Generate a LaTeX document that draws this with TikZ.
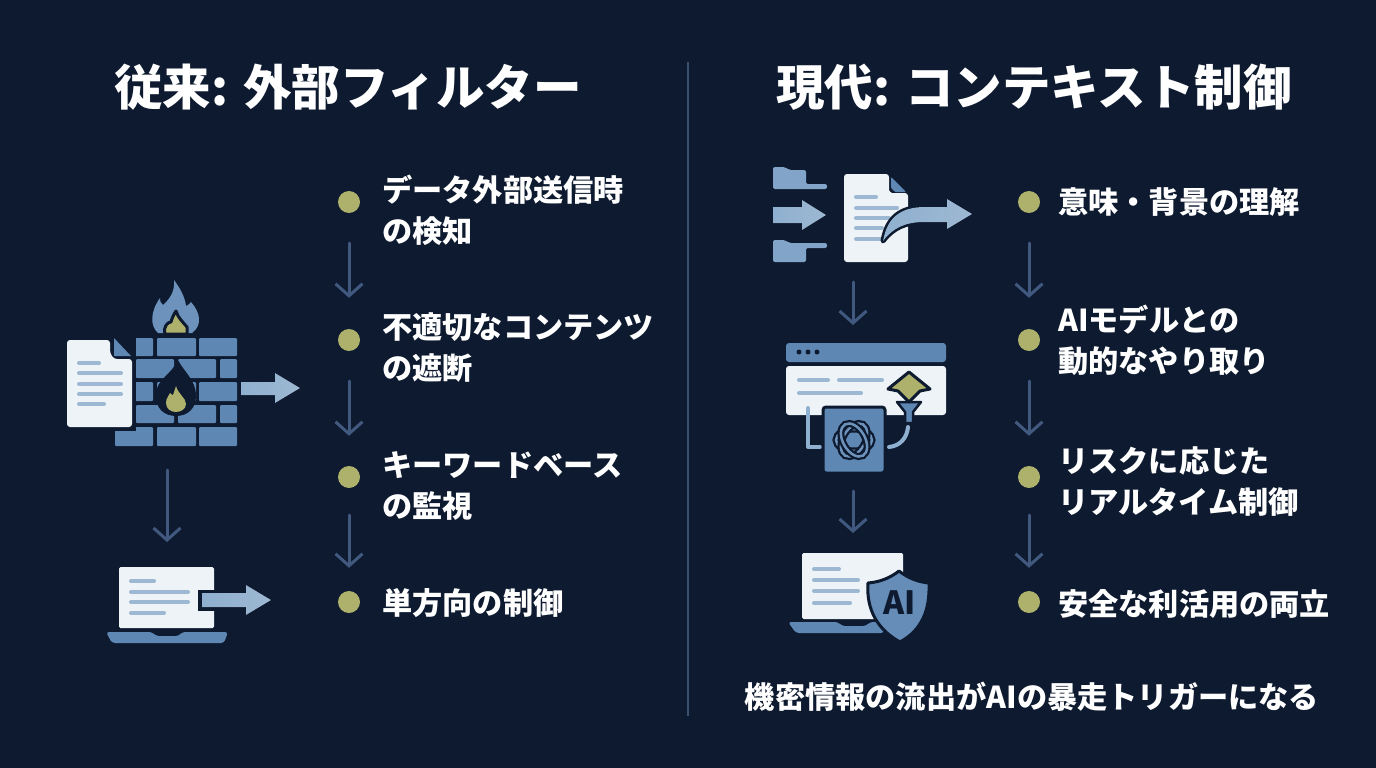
\documentclass[tikz,border=0pt]{standalone}
\usepackage{fontspec}
\setmainfont{Noto Sans CJK JP}
\usepackage{xcolor}
\usepackage{tikz}
\usetikzlibrary{arrows.meta}

\definecolor{bgnavy}{HTML}{0D1A2F}
\definecolor{iconblue}{HTML}{5F87B4}
\definecolor{paleblue}{HTML}{8FB0D0}
\definecolor{linblue}{HTML}{9DB8D2}
\definecolor{paper}{HTML}{EEF3F8}
\definecolor{olive}{HTML}{ADB16C}
\definecolor{flowblue}{HTML}{41597F}
\definecolor{rulecol}{HTML}{3A5070}

\tikzset{
    heading/.style={text=white, font=\fontsize{48.5}{52}\selectfont\bfseries},
    item/.style={text=white, anchor=west, align=left, inner sep=0pt, font=\fontsize{30.2}{41}\selectfont\bfseries},
    bullet/.style={circle, fill=olive, minimum size=22pt, inner sep=0pt},
    flow/.style={draw=flowblue, line width=3pt, line cap=round, -{Straight Barb[length=12pt,width=27pt]}},
    brick/.style={fill=iconblue, rounded corners=1pt},
    sheet/.style={fill=paper, rounded corners=3pt},
    txtline/.style={draw=linblue, line width=4pt, line cap=round},
    cut/.style={draw=bgnavy, line width=3pt, line join=round},
    bigarrow/.style={left color=paleblue, right color=linblue, draw=none}
}

\begin{document}
\begin{tikzpicture}[x=1pt, y=-1pt]
    \useasboundingbox (0,0) rectangle (1376,768);
    \fill[bgnavy] (0,0) rectangle (1376,768);

    % Titles and divider
    \node[heading] (titleleft) at (348,87) {従来: 外部フィルター};
    \node[heading] (titleright) at (1034,87) {現代: コンテキスト制御};
    \coordinate (divtop) at (688,62);
    \coordinate (divbot) at (688,716);
    \draw[rulecol, line width=2pt] (divtop) -- (divbot);

    % Left list
    \node[bullet] (la) at (349,202) {};
    \node[bullet] (lb) at (349,340) {};
    \node[bullet] (lc) at (349,477) {};
    \node[bullet] (ld) at (349,602) {};
    \node[item] (lat) at (382,210) {データ外部送信時\\の検知};
    \node[item] (lbt) at (382,348) {不適切なコンテンツ\\の遮断};
    \node[item] (lct) at (382,486) {キーワードベース\\の監視};
    \node[item] (ldt) at (382,603) {単方向の制御};
    \draw[flow, shorten <=30pt, shorten >=31pt] (la) -- (lb);
    \draw[flow, shorten <=30pt, shorten >=30pt] (lb) -- (lc);
    \draw[flow, shorten <=27pt, shorten >=23pt] (lc) -- (ld);

    % Right list
    \node[bullet] (ra) at (1029,202) {};
    \node[bullet] (rb) at (1029,340) {};
    \node[bullet] (rc) at (1029,477) {};
    \node[bullet] (rd) at (1029,602) {};
    \node[item] (rat) at (1058,202) {意味・背景の理解};
    \node[item] (rbt) at (1058,340) {AIモデルとの\\動的なやり取り};
    \node[item] (rct) at (1058,482) {リスクに応じた\\リアルタイム制御};
    \node[item] (rdt) at (1058,604) {安全な利活用の両立};
    \draw[flow, shorten <=30pt, shorten >=31pt] (ra) -- (rb);
    \draw[flow, shorten <=30pt, shorten >=30pt] (rb) -- (rc);
    \draw[flow, shorten <=27pt, shorten >=23pt] (rc) -- (rd);

    % Footer
    \node[text=white, font=\fontsize{30.2}{36}\selectfont\bfseries] (footer) at (1032,697) {機密情報の流出がAIの暴走トリガーになる};

    % Firewall bricks
    \foreach \ya/\yb in {338/356, 382/401, 427/446} {
        \fill[brick] (115,\ya) rectangle (153,\yb);
        \fill[brick] (157,\ya) rectangle (196,\yb);
        \fill[brick] (199,\ya) rectangle (237,\yb);
    }
    \foreach \ya/\yb in {359/378, 405/423} {
        \fill[brick] (136,\ya) rectangle (174,\yb);
        \fill[brick] (178,\ya) rectangle (216,\yb);
        \fill[brick] (220,\ya) rectangle (237,\yb);
    }

    % Top flame
    \fill[iconblue!70!paleblue] (158,333) .. controls (150,326) and (150,312) .. (160,298)
        .. controls (160,302) and (161,303) .. (163,305)
        .. controls (171,298) and (175,290) .. (174,280)
        .. controls (180,288) and (185,297) .. (186,306)
        .. controls (188,305) and (190,304) .. (191,302)
        .. controls (200,312) and (203,325) .. (192,333) -- cycle;
    \filldraw[fill=olive, cut] (165,334) .. controls (163,326) and (168,322) .. (171,322)
        .. controls (172,318) and (174,314) .. (176,311)
        .. controls (178,318) and (183,322) .. (187,327) -- (187,334) -- cycle;
    \fill[bgnavy] (140,334) rectangle (210,336.5);

    % Centre flame
    \fill[bgnavy] (178,360) .. controls (184,372) and (196,380) .. (196,396)
        .. controls (196,408) and (188,416) .. (176,416)
        .. controls (164,416) and (155,408) .. (156,394)
        .. controls (156,380) and (172,374) .. (178,360) -- cycle;
    \fill[olive] (176,386) .. controls (178,394) and (186,398) .. (186,404)
        .. controls (186,409) and (181,412) .. (176,412)
        .. controls (171,412) and (166,409) .. (166,403)
        .. controls (166,398) and (169,396) .. (170,393)
        .. controls (171,394) and (172,395) .. (173,395)
        .. controls (174,392) and (175,389) .. (176,386) -- cycle;

    % Left document
    \fill[bgnavy] (64,337) rectangle (136,431);
    \fill[bgnavy] (110,335) rectangle (118,340);
    \fill[sheet] (67,340) -- (110,340) -- (110,353) -- (114,359) -- (132,359) -- (132,427) -- (67,427) -- cycle;
    \fill[iconblue] (114,338) -- (131,356) -- (114,356) -- cycle;
    \foreach \yl/\xe in {363/99, 373/121, 384/121, 394/121, 404/104}
        \draw[txtline] (79,\yl) -- (\xe,\yl);

    % Firewall arrow
    \fill[bigarrow] (241,382) -- (275,382) -- (275,373) -- (300,388) -- (275,403) -- (275,395) -- (241,395) -- cycle;

    % Left laptop
    \fill[sheet, rounded corners=1.5pt] (119,567) rectangle (214,628);
    \fill[bgnavy] (198,590) rectangle (216,611);
    \foreach \yl/\xe in {581/154, 592/188, 602/188, 613/164}
        \draw[txtline] (131,\yl) -- (\xe,\yl);
    \fill[bigarrow] (202,593) -- (246,593) -- (246,585) -- (271,600) -- (246,615) -- (246,607) -- (202,607) -- cycle;
    \fill[iconblue, rounded corners=3pt] (106,632) -- (152,632) -- (156,636) -- (179,636) -- (182,632) -- (228,632)
        -- (224,643) -- (112,643) -- cycle;

    % Arrows between left icons
    \coordinate (wallout) at (167,470);
    \coordinate (lapin) at (167,542);
    \draw[flow] (wallout) -- (lapin);

    % Folders and input arrow
    \fill[paleblue!70!iconblue, rounded corners=2pt] (773,167) -- (785,167) -- (789,170) -- (806,170) -- (806,184) -- (827,184) -- (827,189) -- (773,189) -- cycle;
    \fill[bigarrow] (773,207) -- (802,207) -- (802,200) -- (826,215) -- (802,230) -- (802,223) -- (773,223) -- cycle;
    \fill[paleblue!70!iconblue, rounded corners=2pt] (773,240) -- (785,240) -- (789,243) -- (827,243) -- (827,248) -- (806,248) -- (806,262) -- (773,262) -- cycle;

    % Right document
    \fill[sheet] (844,174) -- (889,174) -- (889,187) .. controls (889,191) and (891,193) .. (895,193) -- (908,193) -- (908,262) -- (844,262) -- cycle;
    \fill[iconblue, rounded corners=1pt] (891,177) -- (906,192) -- (895,192) -- (891,188) -- cycle;
    \foreach \yl/\xe in {197/876, 208/897, 218/889, 228/882, 239/881}
        \draw[txtline] (856,\yl) -- (\xe,\yl);

    % Curved output arrow
    \fill[preaction={draw=bgnavy, line width=5pt, line join=round}, left color=paleblue, right color=linblue]
        (883,241) .. controls (887,218) and (900,207) .. (925,207) -- (947,207) -- (947,199) -- (972,214) -- (947,229) -- (947,222) -- (925,222)
        .. controls (905,222) and (893,228) .. (883,241) -- cycle;

    \coordinate (docout) at (853,282);
    \coordinate (webin) at (853,325);
    \draw[flow] (docout) -- (webin);

    % Browser window
    \fill[iconblue, rounded corners=3pt] (786,362) -- (786,343) -- (946,343) -- (946,362) -- cycle;
    \fill[sheet] (786,366) rectangle (946,415);
    \foreach \xd in {799,808,817}
        \fill[bgnavy] (\xd,352) circle (2.5);
    \draw[txtline] (799,380) -- (828,380);
    \draw[txtline] (839,380) -- (882,380);
    \draw[txtline] (799,393) -- (861,393);

    % Wires to the chip
    \draw[paleblue, line width=4pt, line cap=round, line join=round] (808,408) -- (808,447) -- (820,447);
    \draw[paleblue, line width=4pt, line cap=round] (889,447) .. controls (900,446) and (907,438) .. (908,427);

    % Chip with knot
    \filldraw[fill=iconblue, draw=bgnavy, line width=3pt, rounded corners=3pt] (823,407) rectangle (885,473);
    \foreach \ang in {0,60,120} {
        \draw[bgnavy, line width=7pt, rotate around={\ang:(854,440)}] (854,440) ellipse (18 and 11);
        \draw[iconblue!70!paleblue, line width=2.5pt, rotate around={\ang:(854,440)}] (854,440) ellipse (18 and 11);
    }

    % Funnel and hat
    \filldraw[fill=iconblue, cut, line width=2.5pt] (897,402) -- (921,402) -- (913,412) -- (913,423) -- (905,423) -- (905,412) -- cycle;
    \filldraw[fill=olive, cut] (909,372) -- (930,389) -- (920,391) -- (909,402) -- (898,391) -- (888,389) -- cycle;

    \coordinate (chipout) at (853,491);
    \coordinate (shieldin) at (853,533);
    \draw[flow] (chipout) -- (shieldin);

    % Right laptop and shield
    \fill[sheet, rounded corners=1.5pt] (802,553) rectangle (903,619);
    \foreach \yl/\xe in {569/839, 580/858, 591/858, 603/850}
        \draw[txtline] (814,\yl) -- (\xe,\yl);
    \fill[iconblue, rounded corners=3pt] (788,622) -- (838,622) -- (842,626) -- (866,626) -- (870,622) -- (884,622)
        -- (884,633) -- (796,633) -- cycle;
    \filldraw[fill=iconblue!85!paleblue, cut] (899,571) .. controls (908,578) and (918,582) .. (929,583)
        .. controls (930,610) and (922,630) .. (900,642)
        .. controls (878,630) and (866,610) .. (868,583)
        .. controls (880,582) and (890,578) .. (899,571) -- cycle;
    \node[text=bgnavy, font=\fontsize{32}{36}\selectfont\bfseries] (shieldtxt) at (900,603) {AI};
\end{tikzpicture}
\end{document}
